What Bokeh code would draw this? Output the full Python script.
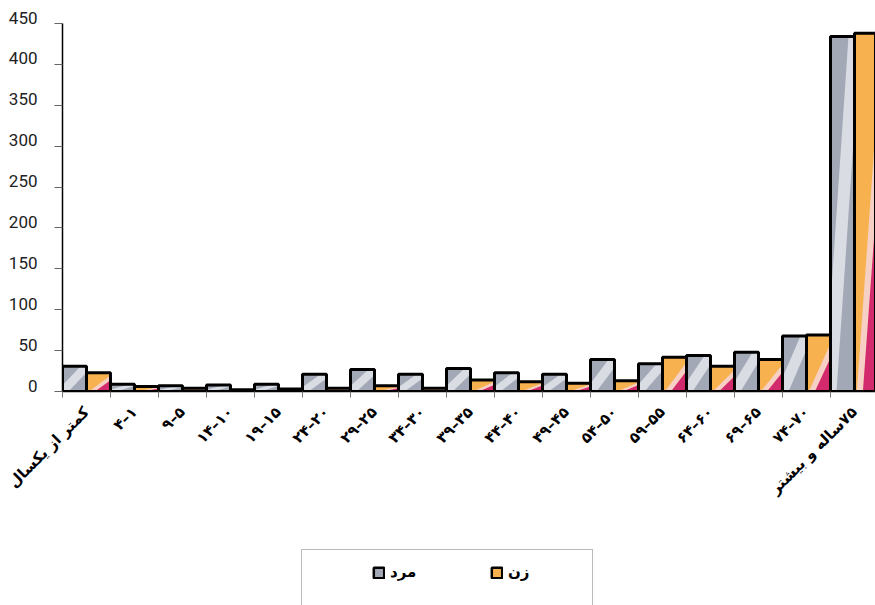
import math
from bokeh.plotting import figure
from bokeh.layouts import column
from bokeh.models import (Range1d, FixedTicker, Legend, LegendItem,
                          ColumnDataSource, LinearAxis)
from bokeh.embed import file_html
from bokeh.resources import INLINE

categories = [
    "کمتر از یکسال",
    "۴–۱",
    "۹–۵",
    "۱۴–۱۰",
    "۱۹–۱۵",
    "۲۴–۲۰",
    "۲۹–۲۵",
    "۳۴–۳۰",
    "۳۹–۳۵",
    "۴۴–۴۰",
    "۴۹–۴۵",
    "۵۴–۵۰",
    "۵۹–۵۵",
    "۶۴–۶۰",
    "۶۹–۶۵",
    "۷۴–۷۰",
    "\u200f۷۵ساله و بیشتر",
]
male = [31, 9, 7, 8, 9, 21, 27, 21, 28, 23, 21, 39, 34, 44, 48, 68, 434]
female = [23, 6, 4, 2, 3, 4, 7, 4, 14, 12, 10, 13, 42, 31, 39, 69, 438]
y_ticks = [0, 50, 100, 150, 200, 250, 300, 350, 400, 450]
series_names = ["مرد", "زن"]

MALE_BASE = "#a3a8b7"
MALE_LIGHT = "#e3e5ea"
FEM_BASE = "#f7b24f"
FEM_PALE = "#f6d0c4"
FEM_DEEP = "#d22a6c"

n = len(categories)
bw = 0.5
xm = [i + 0.25 for i in range(n)]
xf = [i + 0.75 for i in range(n)]

Y_MAX = 450
PX_PER_UNIT = 368 / Y_MAX
LABEL_LIFT = 6 / PX_PER_UNIT      # tick labels sit a little above their ticks

p = figure(width=875, height=545, output_backend="svg", toolbar_location=None,
           x_range=Range1d(0, 813 / 48),
           y_range=Range1d(0, Y_MAX + LABEL_LIFT + 0.05),
           min_border_left=62, min_border_right=0, min_border_top=17,
           min_border_bottom=154)
p.outline_line_color = None
p.xgrid.visible = False
p.ygrid.visible = False

src_m = ColumnDataSource(dict(x=xm, top=male))
src_f = ColumnDataSource(dict(x=xf, top=female))

# base fills
p.vbar(x="x", top="top", width=bw, source=src_m,
       fill_color=MALE_BASE, line_color=None)
p.vbar(x="x", top="top", width=bw, source=src_f,
       fill_color=FEM_BASE, line_color=None)

# light diagonal band on male bars
bxs, bys = [], []
for x, t in zip(xm, male):
    x0 = x - bw / 2
    w = bw
    bxs.append([x0, x0 + 0.25 * w, x0 + w, x0 + w, x0 + 0.75 * w, x0])
    bys.append([0, 0, 0.75 * t, t, t, 0.25 * t])
p.patches(bxs, bys, fill_color=MALE_LIGHT, line_color=None, fill_alpha=0.85)

# pale and magenta wedges on female bars
pxs, pys, mxs, mys = [], [], [], []
for x, t in zip(xf, female):
    x0 = x - bw / 2
    x1 = x + bw / 2
    w = bw
    pxs.append([x0 + 0.1 * w, x1, x1])
    pys.append([0, 0, 0.85 * t])
    mxs.append([x0 + 0.35 * w, x1, x1])
    mys.append([0, 0, 0.6 * t])
p.patches(pxs, pys, fill_color=FEM_PALE, line_color=None)
p.patches(mxs, mys, fill_color=FEM_DEEP, line_color=None)

# outlines
p.vbar(x="x", top="top", width=bw, source=src_m,
       fill_color=None, line_color="black", line_width=3)
p.vbar(x="x", top="top", width=bw, source=src_f,
       fill_color=None, line_color="black", line_width=3)

# x axis
xa = p.xaxis[0]
xa.ticker = FixedTicker(ticks=[i + 0.5 for i in range(n)],
                        minor_ticks=list(range(n + 1)))
xa.major_label_overrides = {i + 0.5: lab for i, lab in enumerate(categories)}
xa.major_tick_line_color = None
xa.major_tick_in = 0
xa.major_tick_out = 0
xa.minor_tick_in = 0
xa.minor_tick_out = 6
xa.minor_tick_line_color = "#777777"
xa.minor_tick_line_width = 1
xa.axis_line_color = "black"
xa.axis_line_width = 1.5
xa.major_label_orientation = math.pi / 4
xa.major_label_standoff = 12
xa.major_label_text_font = "DejaVu Sans"
xa.major_label_text_font_style = "bold"
xa.major_label_text_font_size = "15px"
xa.major_label_text_color = "black"

# y axis: line and tick marks
ya = p.yaxis[0]
ya.bounds = (0, Y_MAX)
ya.ticker = FixedTicker(ticks=y_ticks, minor_ticks=[])
ya.major_label_overrides = {v: "" for v in y_ticks}
ya.major_label_standoff = 0
ya.major_tick_in = 0
ya.major_tick_out = 8
ya.major_tick_line_color = "#666666"
ya.minor_tick_line_color = None
ya.axis_line_color = "black"
ya.axis_line_width = 1.5

# y axis: tick labels only
lab_ticks = [v + LABEL_LIFT for v in y_ticks]
ya2 = LinearAxis(ticker=FixedTicker(ticks=lab_ticks, minor_ticks=[]),
                 major_label_overrides={t: str(v) for t, v in zip(lab_ticks, y_ticks)},
                 axis_line_color=None, major_tick_line_color=None,
                 minor_tick_line_color=None, major_tick_in=0, major_tick_out=0,
                 major_label_standoff=17, major_label_text_font="Roboto",
                 major_label_text_font_size="17px",
                 major_label_text_color="#222222")
p.add_layout(ya2, "left")

# legend strip (a second figure underneath; its frame is aligned with the chart's)
q = figure(width=875, height=60, output_backend="svg", toolbar_location=None,
           x_range=Range1d(0, 1), y_range=Range1d(0, 1),
           min_border_left=62, min_border_right=0, min_border_top=0,
           min_border_bottom=0, x_axis_location=None, y_axis_location=None)
q.outline_line_color = None
q.xgrid.visible = False
q.ygrid.visible = False

dummy = q.vbar(x=[0.5], top=[-5], bottom=[-6], width=0.1, fill_alpha=0, line_alpha=0)
m_key = q.vbar(x=[0.5], top=[-5], bottom=[-6], width=0.1, fill_color=MALE_BASE,
               line_color="black", line_width=2.5)
f_key = q.vbar(x=[0.5], top=[-5], bottom=[-6], width=0.1, fill_color=FEM_BASE,
               line_color="black", line_width=2.5)

leg_box = Legend(items=[LegendItem(label=" ", renderers=[dummy])],
                 location=(239, -6), orientation="horizontal",
                 padding=20, glyph_width=20, glyph_height=20,
                 label_standoff=0, label_width=230,
                 border_line_color="#777777", border_line_width=1,
                 background_fill_color="white", background_fill_alpha=1,
                 label_text_font_size="10px")
q.add_layout(leg_box)

leg = Legend(items=[LegendItem(label=series_names[0], renderers=[m_key]),
                    LegendItem(label=series_names[1], renderers=[f_key])],
             location=(310, 24), orientation="horizontal",
             padding=0, spacing=72, glyph_width=13, glyph_height=13,
             label_standoff=5, label_width=28,
             border_line_color=None, background_fill_alpha=0,
             label_text_font="DejaVu Sans", label_text_font_style="bold",
             label_text_font_size="15px", label_text_color="black")
q.add_layout(leg)

layout = column(p, q, spacing=0)
open("out.html", "w").write(file_html(layout, INLINE))
